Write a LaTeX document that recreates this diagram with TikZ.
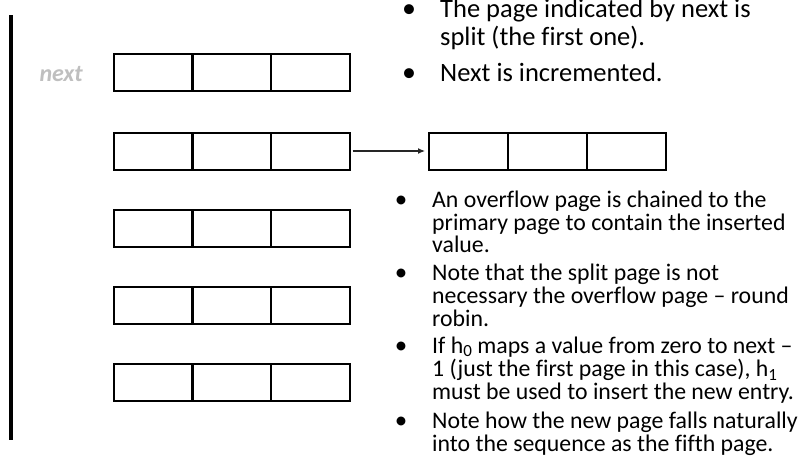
\documentclass[tikz,border=0pt]{standalone}
\usepackage{fontspec}
\setmainfont[Ligatures={NoCommon}]{Carlito}
\usetikzlibrary{arrows.meta}

% subscript set a little larger and lower than the default
\newcommand{\subidx}[1]{\raisebox{-0.3ex}{\fontsize{17}{17}\selectfont #1}}

\tikzset{
  cell/.style={draw=black, line width=2pt, rectangle, minimum width=79pt,
               minimum height=37pt, inner sep=0pt, outer sep=0pt},
  bigline/.style={anchor=base west, inner sep=0pt, font=\fontsize{26.5}{29}\selectfont},
  smallline/.style={anchor=base west, inner sep=0pt, font=\fontsize{23.8}{23}\selectfont},
  bigdot/.style={anchor=base, inner sep=0pt, font=\fontsize{28}{29}\selectfont},
  smalldot/.style={anchor=base, inner sep=0pt, font=\fontsize{25}{23}\selectfont},
  link/.style={line width=1.2pt, draw=black!85, -{Latex[length=7pt,width=6pt]}},
}

\begin{document}
\begin{tikzpicture}[x=1pt, y=-1pt]
  \useasboundingbox (0,0) rectangle (806,456);

  % margin rule on the left
  \draw[line width=4pt] (11,15) -- (11,440);

  % pointer label
  \node[anchor=base east, inner sep=0pt, text=black!25,
        font=\fontsize{24}{28}\selectfont\bfseries\itshape] (nextlbl) at (83,81) {next};

  % the five primary pages, three slots each
  \foreach \r/\yy in {1/72.6, 2/151, 3/228.5, 4/305, 5/382} {
    \node[cell] (r\r c1) at (153.2,\yy) {};
    \node[cell] (r\r c2) at (231.5,\yy) {};
    \node[cell] (r\r c3) at (310.2,\yy) {};
  }

  % overflow page chained to the second primary page
  \node[cell] (o1) at (468.5,151) {};
  \node[cell] (o2) at (547.5,151) {};
  \node[cell] (o3) at (626.5,151) {};
  \draw[link, shorten <=3pt, shorten >=4pt] (r2c3.east) -- (o1.west);

  % upper notes
  \node[bigdot] (b1) at (409,17) {•};
  \node[bigline] (t1a) at (440,17) {The page indicated by next is};
  \node[bigline] (t1b) at (440,45.7) {split (the first one).};
  \node[bigdot] (b2) at (409,81.7) {•};
  \node[bigline] (t2a) at (440,81.7) {Next is incremented.};

  % lower notes
  \node[smalldot] (b3) at (401,207.3) {•};
  \node[smallline] (t3a) at (432,207.3) {An overflow page is chained to the};
  \node[smallline] (t3b) at (432,230.2) {primary page to contain the inserted};
  \node[smallline] (t3c) at (432,252.3) {value.};

  \node[smalldot] (b4) at (401,280) {•};
  \node[smallline] (t4a) at (432,280) {Note that the split page is not};
  \node[smallline] (t4b) at (432,303.3) {necessary the overflow page – round};
  \node[smallline] (t4c) at (432,326.3) {robin.};

  \node[smalldot] (b5) at (401,353.3) {•};
  \node[smallline] (t5a) at (432,353.3) {If h\subidx{0} maps a value from zero to next –};
  \node[smallline] (t5b) at (432,376.7) {1 (just the first page in this case), h\subidx{1}};
  \node[smallline] (t5c) at (432,399.5) {must be used to insert the new entry.};

  \node[smalldot] (b6) at (401,428.3) {•};
  \node[smallline] (t6a) at (432,428.3) {Note how the new page falls naturally};
  \node[smallline] (t6b) at (432,451.5) {into the sequence as the fifth page.};
\end{tikzpicture}
\end{document}
